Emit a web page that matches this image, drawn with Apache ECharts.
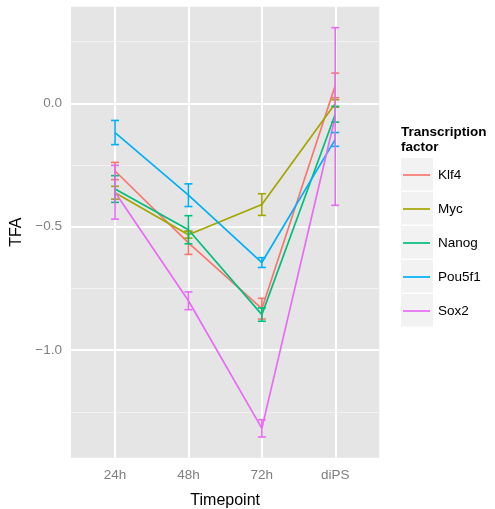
<!DOCTYPE html>
<html>
<head>
<meta charset="utf-8">
<script src="https://cdn.jsdelivr.net/npm/echarts@6/dist/echarts.min.js"></script>
<style>
  html, body { margin: 0; padding: 0; background: #fff; }
  #chart { width: 495px; height: 509px; }
</style>
</head>
<body>
<div id="chart"></div>
<script>
// Timepoints on the x axis
const categories = ['24h', '48h', '72h', 'diPS'];
// Transcription factors and their colours
const factors = ['Klf4', 'Myc', 'Nanog', 'Pou5f1', 'Sox2'];
const colors = ['#F8766D', '#A3A500', '#00BF7D', '#00B0F6', '#E76BF3'];

// Mean TFA per timepoint, and the half-width of each error bar
const klf4 = [-0.274, -0.565, -0.832, 0.073];
const klf4Err = [0.035, 0.047, 0.042, 0.050];
const myc = [-0.362, -0.532, -0.410, 0.000];
const mycErr = [0.026, 0.014, 0.044, 0.015];
const nanog = [-0.347, -0.512, -0.856, -0.044];
const nanogErr = [0.054, 0.057, 0.027, 0.032];
const pou5f1 = [-0.118, -0.372, -0.645, -0.146];
const pou5f1Err = [0.049, 0.046, 0.020, 0.028];
const sox2 = [-0.360, -0.800, -1.317, -0.053];
const sox2Err = [0.109, 0.036, 0.035, 0.360];

// Axis ticks
const yMajor = [-1.0, -0.5, 0.0];
const yMinor = [-1.25, -0.75, -0.25, 0.25];
const xTicks = [0, 1, 2, 3];

const means = [klf4, myc, nanog, pou5f1, sox2];
const errs = [klf4Err, mycErr, nanogErr, pou5f1Err, sox2Err];

const FONT = '"Liberation Sans", Arial, sans-serif';
const chart = echarts.init(document.getElementById('chart'), null, { renderer: 'canvas' });

const series = [];

// Panel grid lines, kept underneath the data
series.push({
  type: 'line',
  data: [],
  silent: true,
  z: 1,
  markLine: {
    silent: true,
    z: 1,
    symbol: 'none',
    label: { show: false },
    animation: false,
    data: [
      ...yMinor.map(v => ({ yAxis: v, lineStyle: { color: '#F2F2F2', width: 1, type: 'solid' } })),
      ...yMajor.map(v => ({ yAxis: v, lineStyle: { color: '#FFFFFF', width: 2, type: 'solid' } })),
      ...xTicks.map(v => ({ xAxis: v, lineStyle: { color: '#FFFFFF', width: 2, type: 'solid' } }))
    ]
  }
});

// Lines joining the means
factors.forEach((name, k) => {
  series.push({
    name: name,
    type: 'line',
    z: 3,
    symbol: 'none',
    color: colors[k],
    lineStyle: { width: 1.7, color: colors[k] },
    data: means[k].map((v, i) => [i, v])
  });
});

// Error bars
factors.forEach((name, k) => {
  series.push({
    name: name,
    type: 'custom',
    z: 4,
    data: means[k].map((v, i) => [i, v - errs[k][i], v + errs[k][i]]),
    encode: { x: 0, y: [1, 2] },
    renderItem: function (params, api) {
      const x = api.value(0);
      const lo = api.coord([x, api.value(1)]);
      const hi = api.coord([x, api.value(2)]);
      const hw = 4;
      const style = { stroke: colors[k], lineWidth: 1.6, fill: null };
      return {
        type: 'group',
        children: [
          { type: 'line', shape: { x1: lo[0], y1: lo[1], x2: hi[0], y2: hi[1] }, style: style },
          { type: 'line', shape: { x1: hi[0] - hw, y1: hi[1], x2: hi[0] + hw, y2: hi[1] }, style: style },
          { type: 'line', shape: { x1: lo[0] - hw, y1: lo[1], x2: lo[0] + hw, y2: lo[1] }, style: style }
        ]
      };
    }
  });
});

// Legend key backgrounds
const keyTop = 158;
const keyStep = 34;
const keyBoxes = factors.map((f, k) => ({
  type: 'rect',
  left: 401,
  top: keyTop + k * keyStep,
  shape: { width: 32, height: 32.5 },
  style: { fill: '#F2F2F2' },
  z: -1
}));

chart.setOption({
  animation: false,
  textStyle: { fontFamily: FONT },
  title: {
    text: 'Transcription\nfactor',
    left: 401,
    top: 125,
    padding: 0,
    textStyle: { fontFamily: FONT, fontSize: 13.5, fontWeight: 'bold', color: '#000', lineHeight: 15 }
  },
  grid: {
    left: 71, right: 115.7, top: 6.7, bottom: 51.3,
    containLabel: false,
    outerBoundsMode: 'none',
    show: true, backgroundColor: '#E5E5E5', borderWidth: 0
  },
  legend: {
    orient: 'vertical',
    left: 403,
    top: keyTop,
    padding: 0,
    itemWidth: 27,
    itemHeight: 1.7,
    itemGap: 0,
    icon: 'rect',
    data: factors,
    textStyle: { fontFamily: FONT, fontSize: 13.5, color: '#000', lineHeight: 34, padding: [0, 0, 0, 3] },
    selectedMode: false
  },
  graphic: keyBoxes,
  xAxis: {
    type: 'value',
    min: -0.6,
    max: 3.6,
    name: 'Timepoint',
    nameLocation: 'middle',
    nameGap: 35,
    nameTextStyle: { fontFamily: FONT, fontSize: 16, color: '#000' },
    axisLine: { show: false },
    splitLine: { show: false },
    axisTick: { show: true, customValues: xTicks, length: 4, lineStyle: { color: '#7F7F7F', width: 1 } },
    axisLabel: {
      customValues: xTicks,
      formatter: v => categories[Math.round(v)] || '',
      fontFamily: FONT, fontSize: 13.5, color: '#7F7F7F', margin: 11
    }
  },
  yAxis: {
    type: 'value',
    min: -1.436,
    max: 0.392,
    name: 'TFA',
    nameLocation: 'middle',
    nameGap: 45,
    nameRotate: 90,
    nameTextStyle: { fontFamily: FONT, fontSize: 16, color: '#000' },
    axisLine: { show: false },
    splitLine: { show: false },
    axisTick: { show: true, customValues: yMajor, length: 4, lineStyle: { color: '#7F7F7F', width: 1 } },
    axisLabel: {
      customValues: yMajor,
      formatter: v => (v < 0 ? '\u2212' : '') + Math.abs(v).toFixed(1),
      fontFamily: FONT, fontSize: 13.5, color: '#7F7F7F', margin: 9
    }
  },
  series: series
});
</script>
</body>
</html>
